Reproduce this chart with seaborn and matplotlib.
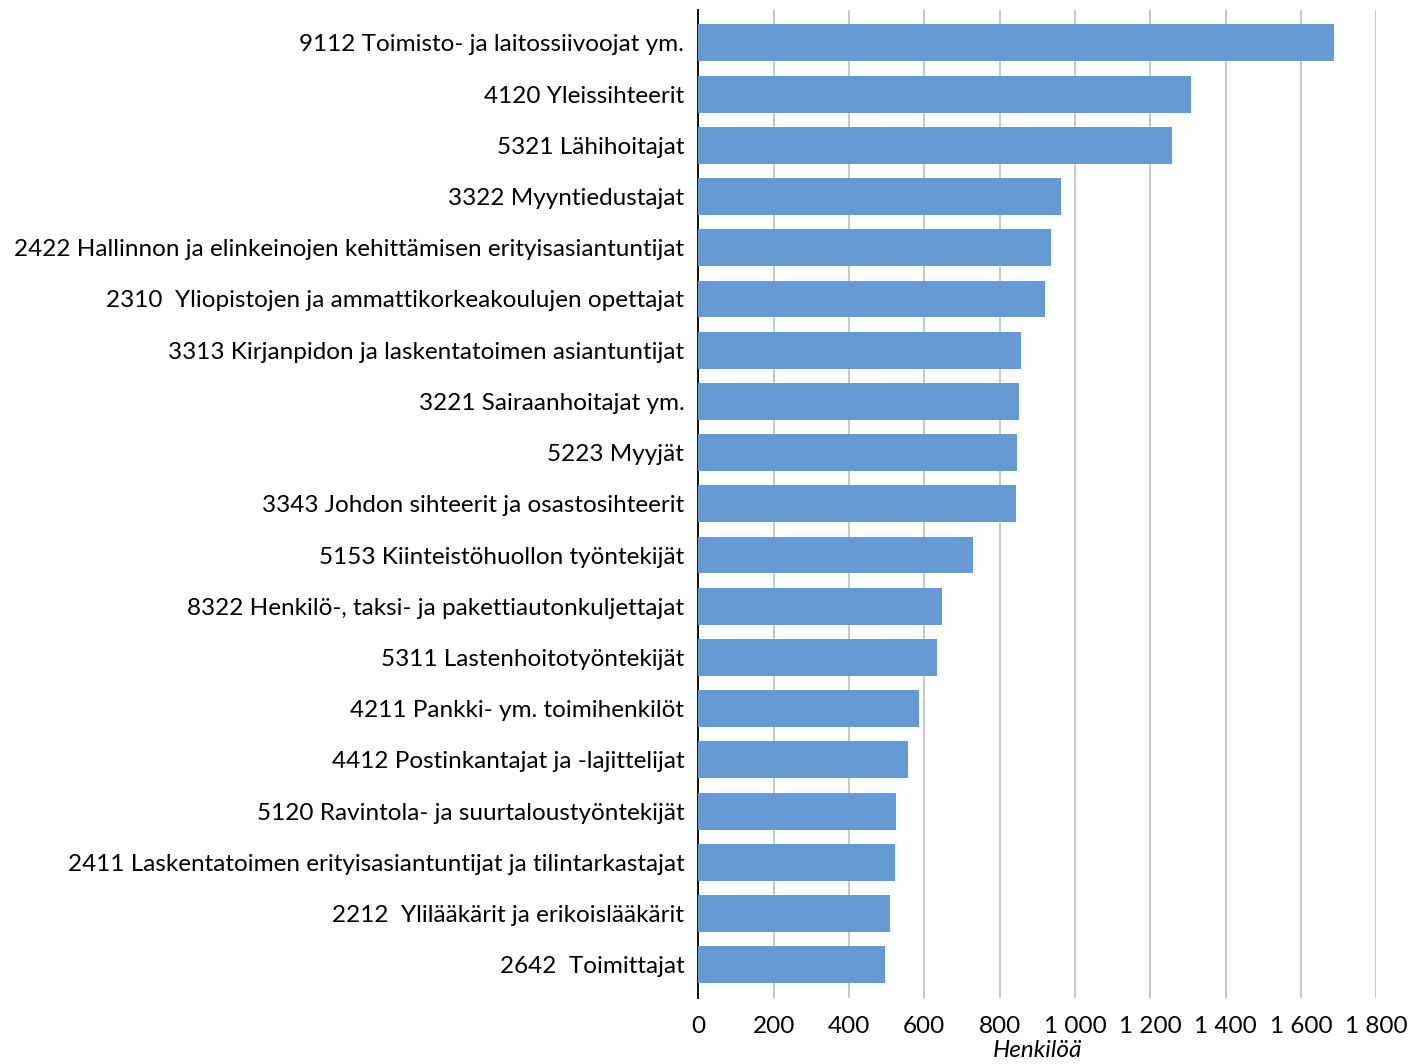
import pandas as pd
import numpy as np
import matplotlib.pyplot as plt
import seaborn as sns
from matplotlib.ticker import FuncFormatter

# data
occupations = [
    "9112 Toimisto- ja laitossiivoojat ym.",
    "4120 Yleissihteerit",
    "5321 Lähihoitajat",
    "3322 Myyntiedustajat",
    "2422 Hallinnon ja elinkeinojen kehittämisen erityisasiantuntijat",
    "2310  Yliopistojen ja ammattikorkeakoulujen opettajat",
    "3313 Kirjanpidon ja laskentatoimen asiantuntijat",
    "3221 Sairaanhoitajat ym.",
    "5223 Myyjät",
    "3343 Johdon sihteerit ja osastosihteerit",
    "5153 Kiinteistöhuollon työntekijät",
    "8322 Henkilö-, taksi- ja pakettiautonkuljettajat",
    "5311 Lastenhoitotyöntekijät",
    "4211 Pankki- ym. toimihenkilöt",
    "4412 Postinkantajat ja -lajittelijat",
    "5120 Ravintola- ja suurtaloustyöntekijät",
    "2411 Laskentatoimen erityisasiantuntijat ja tilintarkastajat",
    "2212  Ylilääkärit ja erikoislääkärit",
    "2642  Toimittajat",
]
persons = [1688, 1309, 1258, 964, 937, 921, 857, 852, 847, 844,
           730, 648, 634, 587, 557, 526, 523, 510, 496]
x_ticks = [0, 200, 400, 600, 800, 1000, 1200, 1400, 1600, 1800]

df = pd.DataFrame({"occupation": occupations, "persons": persons})

sns.set_style("white")
plt.rcParams['font.family'] = ['Lato', 'DejaVu Sans']

fig = plt.figure(figsize=(14.22, 10.64), dpi=100)
ax = fig.add_axes([0.491, 0.062, 0.477, 0.929])

sns.barplot(data=df, x="persons", y="occupation", color="#659ad2",
            saturation=1, width=0.72, linewidth=0, ax=ax, zorder=3)

ax.set_xlim(0, 1800)
ax.set_ylim(18.65, -0.65)
ax.set_xticks(x_ticks)
ax.xaxis.set_major_formatter(FuncFormatter(lambda v, p: f"{int(v):,}".replace(",", " ")))
ax.grid(axis="x", color="#c3c3c3", linewidth=1.3, zorder=0)
ax.grid(axis="y", visible=False)

for s in ["top", "right", "bottom"]:
    ax.spines[s].set_visible(False)
ax.spines["left"].set_color("black")
ax.spines["left"].set_linewidth(1.3)

ax.tick_params(axis="y", length=0, pad=10, labelsize=17.5, labelcolor="black")
ax.tick_params(axis="x", length=5, width=1.3, color="#c3c3c3", pad=8,
               labelsize=17.5, labelcolor="black")
ax.set_ylabel("")
ax.set_xlabel("Henkilöä", fontsize=17.5, style="italic", labelpad=2, color="black")

fig.savefig("out.png", dpi=100)
